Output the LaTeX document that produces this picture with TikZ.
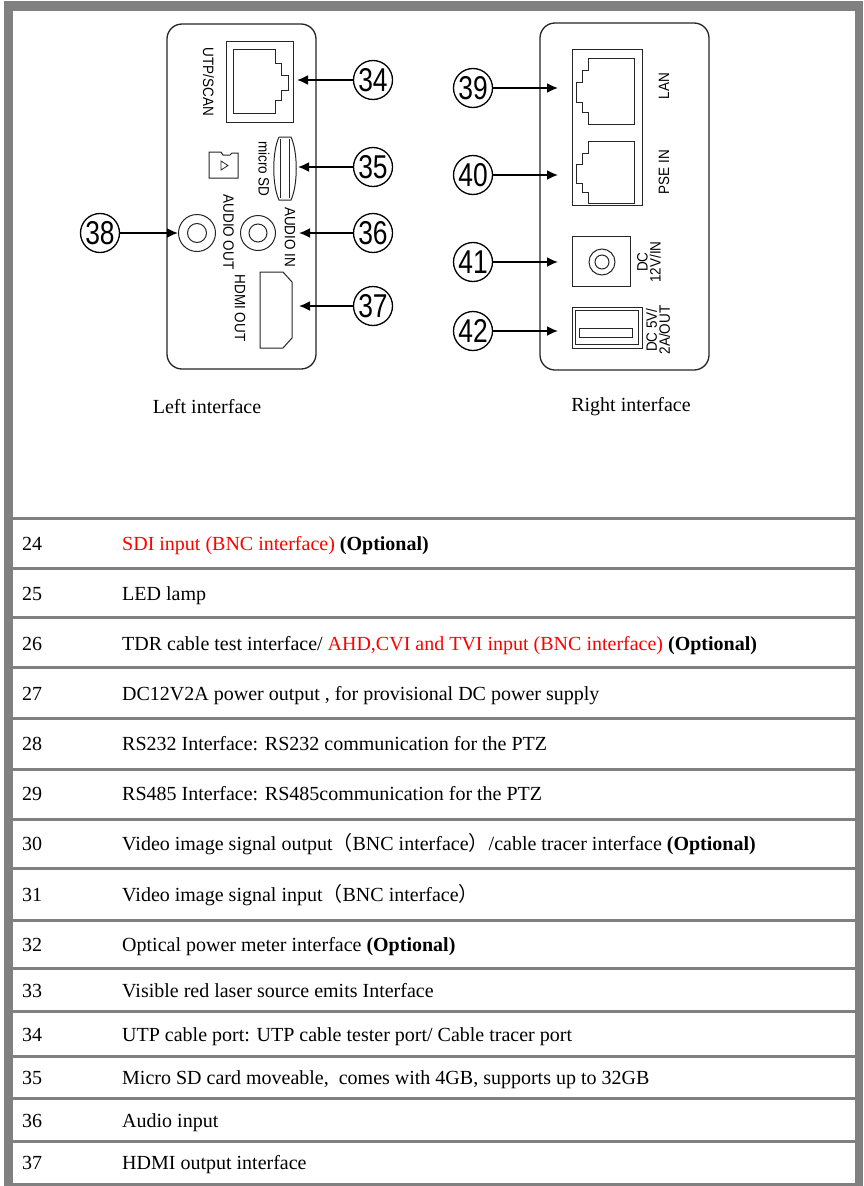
\documentclass[tikz,border=0pt]{standalone}
\usepackage{fontspec}
\setmainfont{Liberation Serif}
\newfontfamily\panelfont[FakeStretch=0.9]{Liberation Sans}
\newfontfamily\numfont[FakeStretch=0.8]{Liberation Sans}
\newfontfamily\cjk{Noto Sans CJK SC}
\usepackage{xcolor}
\usetikzlibrary{arrows.meta, calc, positioning}
\definecolor{framegray}{HTML}{808080}
\newcommand{\portArrow}{{Latex[length=11pt, width=10pt]}}

\begin{document}
\begin{tikzpicture}[x=1pt, y=-1pt, font=\fontsize{20}{22}\selectfont,
	panel/.style={draw=black!85, line width=1.3pt, rounded corners=15pt},
	port/.style={draw=black!85, line width=1pt},
	plabel/.style={font=\panelfont\fontsize{15}{13}\selectfont, align=center, inner sep=0pt},
	callout/.style={circle, draw, line width=1.3pt, minimum size=39pt, inner sep=0pt, font=\numfont\fontsize{33}{33}\selectfont},
	pointer/.style={-\portArrow, line width=1.8pt},
	rowno/.style={anchor=base west, inner sep=0pt},
	rowtxt/.style={anchor=base west, inner sep=0pt},
	rule/.style={draw=framegray, line width=3pt}]
	\useasboundingbox (0,0) rectangle (863,1186);
	\fill[framegray] (4,1) rectangle (863,1186);
	\fill[white] (12.5,10.5) rectangle (855,1183);

	% left interface
	\draw[panel] (167,24) rectangle (316,369);
	\draw[port] (226,41) rectangle (293,122);
	\draw[port] (233,49) -- (275,49) -- (275,63) -- (281,63) -- (281,75) -- (288,75) -- (288,90) -- (281,90) -- (281,100) -- (275,100) -- (275,113) -- (233,113) -- cycle;
	\node[plabel, rotate=-90] (utp) at (208.5,82) {UTP/SCAN};
	\draw[port] (209,178) -- (209,152) -- (221,152) -- (223,155) -- (230,155) -- (232,153) -- (238,153) -- (238,178) -- cycle;
	\draw[port, line width=0.8pt] (221,161) -- (228,165.5) -- (221,170) -- cycle;
	\draw[port] (279,137) -- (291,137) .. controls (298,152) and (298,185) .. (291,200) -- (279,200) .. controls (272,185) and (272,152) .. (279,137);
	\draw[port] (280.5,139) -- (280.5,198);
	\draw[port] (289.5,139) -- (289.5,198);
	\node[plabel, rotate=-90] (msd) at (264,169) {micro SD};
	\draw[port] (197,233) circle (18.5) (197,233) circle (9.5);
	\draw[port] (258,233) circle (17.5) (258,233) circle (9);
	\node[plabel, rotate=-90] (aout) at (228.5,232) {AUDIO OUT};
	\node[plabel, rotate=-90] (ain) at (290,237) {AUDIO IN};
	\draw[port] (260,272) -- (283,272) -- (292,282) -- (292,338) -- (283,348) -- (260,348) -- cycle;
	\node[plabel, rotate=-90] (hdmi) at (240,308) {HDMI OUT};

	\node[callout] (n34) at (373,80) {34};
	\node[callout] (n35) at (373,167) {35};
	\node[callout] (n36) at (373,233) {36};
	\node[callout] (n37) at (373,306) {37};
	\node[callout] (n38) at (100,233) {38};
	\coordinate (p34) at (297,80);
	\coordinate (p35) at (298,167);
	\coordinate (p36) at (299,233);
	\coordinate (p37) at (299,306);
	\coordinate (p38) at (178,233);
	\draw[pointer] (n34) -- (p34);
	\draw[pointer] (n35) -- (p35);
	\draw[pointer] (n36) -- (p36);
	\draw[pointer] (n37) -- (p37);
	\draw[pointer] (n38) -- (p38);

	% right interface
	\draw[panel] (540,23) rectangle (709,370);
	\draw[port] (572,49) rectangle (642,205);
	\draw[port] (634,58) -- (588,58) -- (588,70) -- (582,70) -- (582,82) -- (576,82) -- (576,102) -- (582,102) -- (582,112) -- (588,112) -- (588,124) -- (634,124) -- cycle;
	\draw[port] (634,141) -- (588,141) -- (588,153) -- (582,153) -- (582,164) -- (576,164) -- (576,183) -- (582,183) -- (582,192) -- (588,192) -- (588,203) -- (634,203) -- cycle;
	\node[plabel, rotate=90] (lan) at (664,86) {LAN};
	\node[plabel, rotate=90] (pse) at (664,172) {PSE IN};
	\draw[port] (572,236) rectangle (630,286);
	\draw[port] (602,262) circle (13) (602,262) circle (7);
	\node[plabel, rotate=90] (dcin) at (649,262) {DC\\12V/IN};
	\draw[port] (572,307) rectangle (642,348);
	\draw[port] (575.5,310.5) rectangle (638.5,344.5);
	\draw[port] (579,328) rectangle (632,337);
	\node[plabel, rotate=90] (dcout) at (658,330) {DC 5V/\\2A/OUT};

	\node[callout] (n39) at (473,88) {39};
	\node[callout] (n40) at (473,175) {40};
	\node[callout] (n41) at (473,262) {41};
	\node[callout] (n42) at (473,331) {42};
	\coordinate (p39) at (558,88);
	\coordinate (p40) at (558,175);
	\coordinate (p41) at (558,262);
	\coordinate (p42) at (558,331);
	\draw[pointer] (n39) -- (p39);
	\draw[pointer] (n40) -- (p40);
	\draw[pointer] (n41) -- (p41);
	\draw[pointer] (n42) -- (p42);

	\node (capL) at (207,407) {Left interface};
	\node (capR) at (631,407) {Right interface};

	% table
	\draw[rule] (12,518.5) -- (855,518.5);
	\draw[rule] (12,568.3) -- (855,568.3);
	\draw[rule] (12,617.7) -- (855,617.7);
	\draw[rule] (12,667.7) -- (855,667.7);
	\draw[rule] (12,718.3) -- (855,718.3);
	\draw[rule] (12,769.3) -- (855,769.3);
	\draw[rule] (12,819.3) -- (855,819.3);
	\draw[rule] (12,868.3) -- (855,868.3);
	\draw[rule] (12,920) -- (855,920);
	\draw[rule] (12,968.3) -- (855,968.3);
	\draw[rule] (12,1011.7) -- (855,1011.7);
	\draw[rule] (12,1056) -- (855,1056);
	\draw[rule] (12,1098.3) -- (855,1098.3);
	\draw[rule] (12,1141.5) -- (855,1141.5);

	\node[rowno] (no24) at (22,550) {24};
	\node[rowtxt] (txt24) at (122,550) {\textcolor{red}{SDI input (BNC interface)} \textbf{(Optional)}};
	\node[rowno] (no25) at (22,600) {25};
	\node[rowtxt] (txt25) at (122,600) {LED lamp};
	\node[rowno] (no26) at (22,650) {26};
	\node[rowtxt] (txt26) at (122,650) {TDR cable test interface/ \textcolor{red}{AHD,CVI and TVI input (BNC interface)} \textbf{(Optional)}};
	\node[rowno] (no27) at (22,700) {27};
	\node[rowtxt] (txt27) at (122,700) {DC12V2A power output , for provisional DC power supply};
	\node[rowno] (no28) at (22,750) {28};
	\node[rowtxt] (txt28) at (122,750) {RS232 Interface: RS232 communication for the PTZ};
	\node[rowno] (no29) at (22,800.5) {29};
	\node[rowtxt] (txt29) at (122,800.5) {RS485 Interface: RS485communication for the PTZ};
	\node[rowno] (no30) at (22,850) {30};
	\node[rowtxt] (txt30) at (122,850) {Video image signal output{\cjk （}BNC interface{\cjk ）}/cable tracer interface \textbf{(Optional)}};
	\node[rowno] (no31) at (22,901) {31};
	\node[rowtxt] (txt31) at (122,901) {Video image signal input{\cjk （}BNC interface{\cjk ）}};
	\node[rowno] (no32) at (22,951) {32};
	\node[rowtxt] (txt32) at (122,951) {Optical power meter interface \textbf{(Optional)}};
	\node[rowno] (no33) at (22,997) {33};
	\node[rowtxt] (txt33) at (122,997) {Visible red laser source emits Interface};
	\node[rowno] (no34) at (22,1041) {34};
	\node[rowtxt] (txt34) at (122,1041) {UTP cable port: UTP cable tester port/ Cable tracer port};
	\node[rowno] (no35) at (22,1084) {35};
	\node[rowtxt] (txt35) at (122,1084) {Micro SD card moveable,\ \ comes with 4GB, supports up to 32GB};
	\node[rowno] (no36) at (22,1127) {36};
	\node[rowtxt] (txt36) at (122,1127) {Audio input};
	\node[rowno] (no37) at (22,1169) {37};
	\node[rowtxt] (txt37) at (122,1169) {HDMI output interface};
\end{tikzpicture}
\end{document}
